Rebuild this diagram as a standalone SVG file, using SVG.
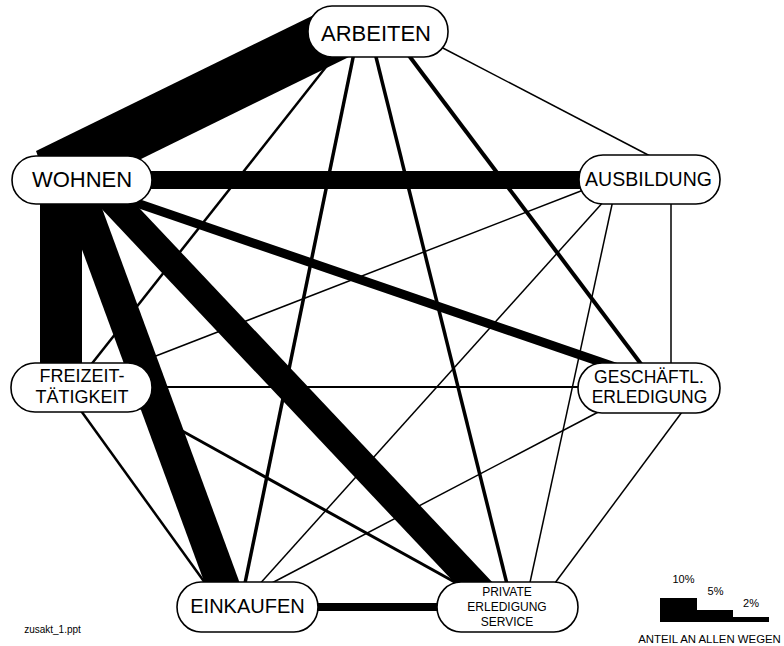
<svg xmlns="http://www.w3.org/2000/svg" width="784" height="646" viewBox="0 0 784 646">
  <style>
    .node rect { fill: #fff; stroke: #000; stroke-width: 1.6; }
    .node text, .lbl { font-family: "Liberation Sans", Arial, sans-serif; fill: #000; text-anchor: middle; }
    .edges line { stroke: #000; stroke-linecap: butt; }
    .t1 { stroke-width: 1.5; }
    .t2 { stroke-width: 2.5; }
    .t3 { stroke-width: 3.5; }
  </style>
  <rect width="784" height="646" fill="#fff"/>

  <!-- connectors: stroke width shows the share of all trips -->
  <g id="connectors" class="edges">
    <!-- thin and medium links -->
    <line class="t1" x1="439" y1="46" x2="652" y2="157"/>
    <line class="t2" x1="337" y1="53" x2="90" y2="366"/>
    <line class="t3" x1="354" y1="53" x2="244" y2="588"/>
    <line class="t3" x1="375" y1="53" x2="508" y2="588"/>
    <line style="stroke-width:4" x1="407" y1="53" x2="644" y2="368"/>
    <line class="t1" x1="130" y1="366" x2="586" y2="189"/>
    <line class="t1" x1="605" y1="200" x2="257" y2="587"/>
    <line class="t1" x1="613" y1="200" x2="529" y2="587"/>
    <line class="t1" x1="671" y1="200" x2="671" y2="368"/>
    <line style="stroke-width:2" x1="148" y1="387" x2="582" y2="387"/>
    <line class="t2" x1="79" y1="408" x2="208" y2="587"/>
    <line style="stroke-width:3" x1="130" y1="402" x2="460" y2="585"/>
    <line class="t1" x1="604" y1="409" x2="268" y2="585"/>
    <line class="t1" x1="685" y1="408" x2="552" y2="587"/>
    <!-- heavy links -->
    <line style="stroke-width:8" x1="310" y1="607" x2="445" y2="607"/>
    <line style="stroke-width:9" x1="128" y1="200" x2="618" y2="368"/>
    <line style="stroke-width:18" x1="140" y1="180" x2="590" y2="180"/>
    <line style="stroke-width:28" x1="103" y1="190" x2="490" y2="600"/>
    <line style="stroke-width:33" x1="74" y1="180" x2="231" y2="607"/>
    <line style="stroke-width:42" x1="61" y1="190" x2="61" y2="380"/>
    <polygon points="318,13 36,151 40,162 139,160 351,56 345,30" fill="#000"/>
  </g>

  <g id="arbeiten" class="node">
    <rect x="308" y="6" width="140" height="51" rx="24" ry="25"/>
    <text x="376" y="41" font-size="22">ARBEITEN</text>
  </g>
  <g id="wohnen" class="node">
    <rect x="12" y="156" width="140" height="48" rx="24" ry="24"/>
    <text x="82" y="187" font-size="22">WOHNEN</text>
  </g>
  <g id="ausbildung" class="node">
    <rect x="579" y="155" width="141" height="49" rx="24" ry="24"/>
    <text x="648.5" y="186" font-size="19.5">AUSBILDUNG</text>
  </g>
  <g id="freizeit" class="node">
    <rect x="11" y="363" width="141" height="49" rx="24" ry="24"/>
    <text x="82" y="382" font-size="18">FREIZEIT-</text>
    <text x="82" y="403" font-size="18">TÄTIGKEIT</text>
  </g>
  <g id="geschaeftl" class="node">
    <rect x="578" y="363" width="142" height="50" rx="24" ry="25"/>
    <text x="649" y="383" font-size="17.5">GESCHÄFTL.</text>
    <text x="649.5" y="403" font-size="17.5">ERLEDIGUNG</text>
  </g>
  <g id="einkaufen" class="node">
    <rect x="177" y="582" width="141" height="50" rx="24" ry="25"/>
    <text x="247.5" y="613" font-size="20">EINKAUFEN</text>
  </g>
  <g id="private" class="node">
    <rect x="437" y="582" width="141" height="50" rx="24" ry="25"/>
    <text x="507" y="596" font-size="12">PRIVATE</text>
    <text x="507" y="611" font-size="12">ERLEDIGUNG</text>
    <text x="507" y="626" font-size="12">SERVICE</text>
  </g>

  <!-- legend -->
  <g id="legend">
    <path d="M660,598 H697 V610 H733 V617 H769 V622 H660 Z" fill="#000"/>
    <text class="lbl" x="683.5" y="583" font-size="11">10%</text>
    <text class="lbl" x="715.5" y="595" font-size="11">5%</text>
    <text class="lbl" x="751" y="607" font-size="11">2%</text>
    <text class="lbl" x="709.5" y="643" font-size="11.4">ANTEIL AN ALLEN WEGEN</text>
  </g>
  <text class="lbl" x="52.5" y="633" font-size="10">zusakt_1.ppt</text>
</svg>
